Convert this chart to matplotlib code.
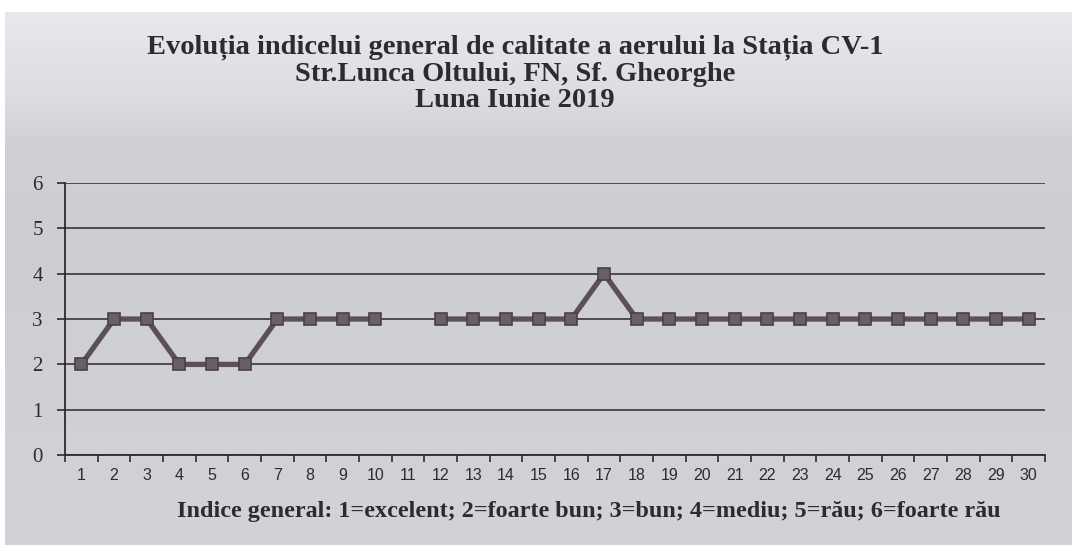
import numpy as np
import matplotlib
matplotlib.use("Agg")
import matplotlib.pyplot as plt
from matplotlib.colors import LinearSegmentedColormap

days = list(range(1, 31))
# daily general index (day 11 missing)
index_vals = [2, 3, 3, 2, 2, 2, 3, 3, 3, 3, np.nan, 3, 3, 3, 3, 3, 4,
              3, 3, 3, 3, 3, 3, 3, 3, 3, 3, 3, 3, 3]
y_ticks = [0, 1, 2, 3, 4, 5, 6]

title = ("Evoluția indicelui general de calitate a aerului la Stația CV-1\n"
         "Str.Lunca Oltului, FN, Sf. Gheorghe\n"
         "Luna Iunie 2019")
footnote = "Indice general: 1=excelent; 2=foarte bun; 3=bun; 4=mediu; 5=rău; 6=foarte rău"

INK = "#2e2a2e"
LINE = "#5b5057"

fig = plt.figure(figsize=(10.77, 5.51), dpi=100)
fig.patch.set_facecolor("white")

# scanned grey panel with a lighter top band
bg = fig.add_axes([0.005, 0.01, 0.99, 0.968])
bg.set_axis_off()
grad = LinearSegmentedColormap.from_list(
    "panel", [(0.0, "#d3d3d7"), (0.55, "#cdced2"), (0.75, "#d0d0d4"),
              (0.85, "#dedee2"), (1.0, "#e9e9ed")])
bg.imshow(np.linspace(0, 1, 256).reshape(-1, 1), aspect="auto", cmap=grad,
          origin="lower", extent=[0, 1, 0, 1])
bg.set_xlim(0, 1); bg.set_ylim(0, 1)

ax = fig.add_axes([0.0604, 0.174, 0.910, 0.494])
ax.patch.set_alpha(0)
x = np.arange(len(days))
ax.plot(x, index_vals, color=LINE, lw=3.8, marker="s", ms=8,
        mec="#4a4047", mfc="#6a5f66", mew=1.2, zorder=3)
ax.set_xlim(-0.5, len(days) - 0.5)
ax.set_ylim(0, 6)
ax.set_yticks(y_ticks)
ax.set_yticklabels([str(v) for v in y_ticks], family="Liberation Serif",
                   fontsize=15, color=INK)
ax.set_xticks(x)
ax.set_xticklabels([str(d) for d in days], family="Liberation Sans",
                   fontsize=11.5, color=INK)
ax.set_xticks(np.arange(len(days) + 1) - 0.5, minor=True)
ax.tick_params(axis="x", which="major", length=0, pad=9)
ax.tick_params(axis="x", which="minor", length=5, width=1.2, color=INK)
ax.tick_params(axis="y", length=6, width=1.2, color=INK, pad=10)
ax.grid(axis="y", color="#3a3438", lw=1.2)
for side in ("top", "right"):
    ax.spines[side].set_visible(False)
for side in ("left", "bottom"):
    ax.spines[side].set_color(INK)
    ax.spines[side].set_linewidth(1.3)

fig.text(0.478, 0.937, title, ha="center", va="top", family="Liberation Serif",
         fontweight="bold", fontsize=20.5, color=INK, linespacing=1.08)
fig.text(0.547, 0.071, footnote, ha="center", va="center", family="Liberation Serif",
         fontweight="bold", fontsize=17.4, color=INK)

fig.savefig("out.png", dpi=100)
